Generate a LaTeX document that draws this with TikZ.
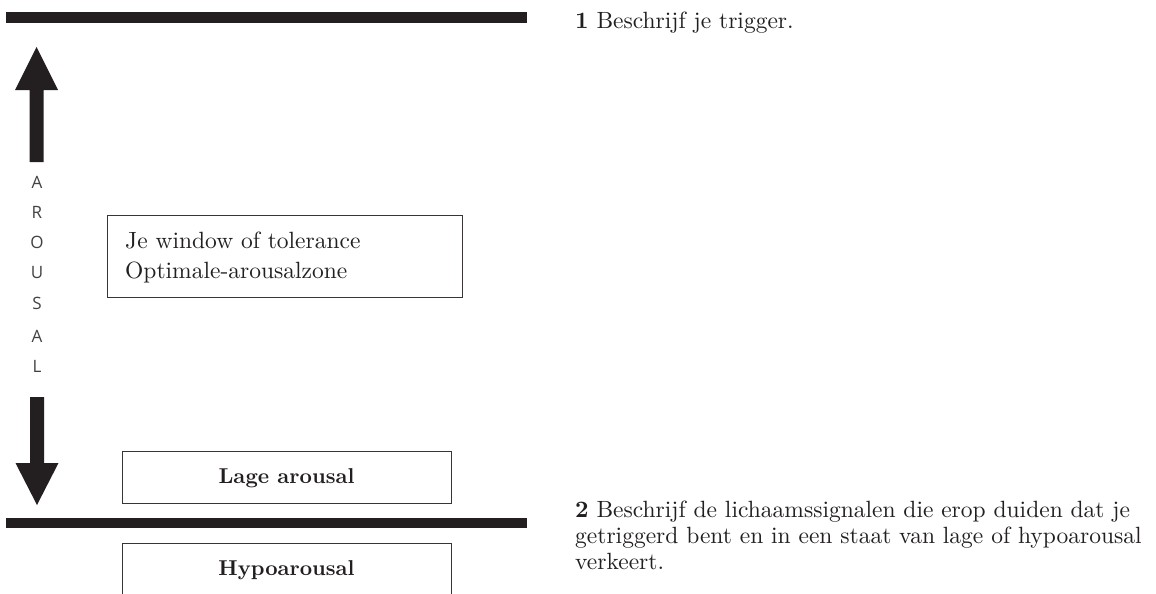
\documentclass[tikz,border=0pt]{standalone}
\usepackage{fontspec}
% use the 10pt design of Latin Modern at every size
\setmainfont{lmroman10-regular}[Extension=.otf, BoldFont=lmroman10-bold,
  ItalicFont=lmroman10-italic, BoldItalicFont=lmroman10-bolditalic]
\newfontfamily\lettersans{Open Sans}
\definecolor{ink}{HTML}{231F20}
\begin{document}
\begin{tikzpicture}[x=1pt, y=-1pt,
  bar/.style={fill=ink},
  bigarrow/.style={fill=ink},
  zonebox/.style={draw=ink!90, line width=1.4pt, fill=white, inner sep=0pt, anchor=north west},
  boxtext/.style={inner sep=0pt, text=ink, font=\fontsize{23.5}{26}\selectfont},
  boldtext/.style={inner sep=0pt, text=ink, font=\fontsize{21.5}{26}\selectfont\bfseries},
  question/.style={inner sep=0pt, text=ink, align=left, font=\fontsize{23.5}{26}\selectfont},
  axisletter/.style={inner sep=0pt, text=ink!85, font=\lettersans\fontsize{17}{20}\selectfont}]
\useasboundingbox (0,0) rectangle (1156,594);
\clip (0,0) rectangle (1156,594);
\fill[white] (0,0) rectangle (1156,594);

% upper and lower thresholds
\fill[bar] (6,12) rectangle (527,23);
\fill[bar] (6,518) rectangle (527,528);

% arousal axis: arrows up and down
\fill[bigarrow] (36.5,47) -- (58,90) -- (43.5,90) -- (43.5,162) -- (29.5,162)
  -- (29.5,90) -- (15,90) -- cycle;
\fill[bigarrow] (37,505) -- (58.5,463) -- (44,463) -- (44,397) -- (30,397)
  -- (30,463) -- (15.5,463) -- cycle;

% vertical axis label
\foreach \ch/\yy [count=\i] in {A/182, R/212, O/242, U/273, S/303, A/336, L/366}
  \node[axisletter] (letter\i) at (37,\yy) {\ch};

% zones
\node[zonebox, minimum width=355pt, minimum height=82pt] (window) at (107,215) {};
\node[boxtext, anchor=base west] (windowA) at (125,248) {Je window of tolerance};
\node[boxtext, anchor=base west] (windowB) at (125,278) {Optimale-arousalzone};

\node[zonebox, minimum width=329pt, minimum height=52pt] (lage) at (122,451) {};
\node[boldtext, anchor=base] (lagetext) at (286.5,483) {Lage arousal};

\node[zonebox, minimum width=329pt, minimum height=80pt] (hypo) at (122,543) {};
\node[boldtext, anchor=base] (hypotext) at (286.5,575) {Hypoarousal};

% questions
\node[boxtext, anchor=base west] (q1) at (575,29) {\textbf{1} Beschrijf je trigger.};
\node[question, anchor=north west] (q2) at (575,500.7)
  {\textbf{2} Beschrijf de lichaamssignalen die erop duiden dat je\\
   getriggerd bent en in een staat van lage of hypoarousal\\
   verkeert.};
\end{tikzpicture}
\end{document}
